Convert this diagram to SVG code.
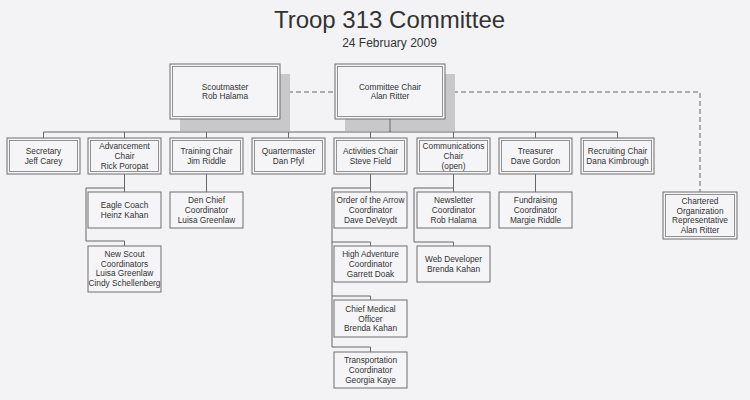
<svg xmlns="http://www.w3.org/2000/svg" width="750" height="400" viewBox="0 0 750 400">
<style>
.bg{fill:#f3f3f6}
.sh{fill:#c8c8cb}
.o{fill:#f5f5f7;stroke:#6e6e6e;stroke-width:1}
.i{fill:none;stroke:#7a7a7a;stroke-width:0.8}
.s{fill:#f5f5f7;stroke:#6e6e6e;stroke-width:1}
text{font-family:"Liberation Sans",Arial,sans-serif;fill:#333;text-anchor:middle}
.t{font-size:8.3px}
.c{fill:none;stroke:#666;stroke-width:1}
.d{fill:none;stroke:#666;stroke-width:1;stroke-dasharray:5,3}
</style>
<rect class="bg" x="0" y="0" width="750" height="400"/>
<text x="389.5" y="28" style="font-size:24px">Troop 313 Committee</text>
<text x="389.5" y="47" style="font-size:12px">24 February 2009</text>
<g id="connectors">
<path class="d" d="M280 92H335M445 92H700V192"/>
<path class="c" d="M390 119V132M43.5 132H617.5M43.5 132V138M124.5 132V138M206.5 132V138M288.5 132V138M370.5 132V138M453.5 132V138M535.5 132V138M617.5 132V138"/>
<path class="c" d="M124.5 174V192M124.5 188H86V241H124.5V246"/>
<path class="c" d="M206.5 174V192"/>
<path class="c" d="M370.5 174V192M370.5 188H332V347M332 242H370.5V246M332 296H370.5V300M332 347H370.5V352"/>
<path class="c" d="M453.5 174V192M453.5 188H414V242H453.5V246"/>
<path class="c" d="M535.5 174V192"/>
</g>
<g id="scoutmaster">
<rect class="sh" x="180" y="74" width="110" height="57"/>
<rect class="o" x="170" y="64" width="110" height="55"/>
<rect class="i" x="172.5" y="66.5" width="105" height="50"/>
<text class="t" x="225" y="89.7">Scoutmaster</text>
<text class="t" x="225" y="99.4">Rob Halama</text>
</g>
<g id="committee-chair">
<rect class="sh" x="345" y="74" width="110" height="57"/>
<rect class="o" x="335" y="64" width="110" height="55"/>
<rect class="i" x="337.5" y="66.5" width="105" height="50"/>
<text class="t" x="390" y="89.7">Committee Chair</text>
<text class="t" x="390" y="99.4">Alan Ritter</text>
</g>
<path class="c" d="M390 119V132"/>
<g id="secretary">
<rect class="o" x="7" y="138" width="73" height="36"/>
<rect class="i" x="9.5" y="140.5" width="68" height="31"/>
<text class="t" x="43.5" y="154.2">Secretary</text>
<text class="t" x="43.5" y="163.9">Jeff Carey</text>
</g>
<g id="advancement-chair">
<rect class="o" x="88" y="138" width="73" height="36"/>
<rect class="i" x="90.5" y="140.5" width="68" height="31"/>
<text class="t" x="124.5" y="149.3">Advancement</text>
<text class="t" x="124.5" y="159">Chair</text>
<text class="t" x="124.5" y="168.7">Rick Poropat</text>
</g>
<g id="training-chair">
<rect class="o" x="170" y="138" width="73" height="36"/>
<rect class="i" x="172.5" y="140.5" width="68" height="31"/>
<text class="t" x="206.5" y="154.2">Training Chair</text>
<text class="t" x="206.5" y="163.9">Jim Riddle</text>
</g>
<g id="quartermaster">
<rect class="o" x="252" y="138" width="73" height="36"/>
<rect class="i" x="254.5" y="140.5" width="68" height="31"/>
<text class="t" x="288.5" y="154.2">Quartermaster</text>
<text class="t" x="288.5" y="163.9">Dan Pfyl</text>
</g>
<g id="activities-chair">
<rect class="o" x="334" y="138" width="73" height="36"/>
<rect class="i" x="336.5" y="140.5" width="68" height="31"/>
<text class="t" x="370.5" y="154.2">Activities Chair</text>
<text class="t" x="370.5" y="163.9">Steve Field</text>
</g>
<g id="communications-chair">
<rect class="o" x="417" y="138" width="73" height="36"/>
<rect class="i" x="419.5" y="140.5" width="68" height="31"/>
<text class="t" x="453.5" y="149.3">Communications</text>
<text class="t" x="453.5" y="159">Chair</text>
<text class="t" x="453.5" y="168.7">(open)</text>
</g>
<g id="treasurer">
<rect class="o" x="499" y="138" width="73" height="36"/>
<rect class="i" x="501.5" y="140.5" width="68" height="31"/>
<text class="t" x="535.5" y="154.2">Treasurer</text>
<text class="t" x="535.5" y="163.9">Dave Gordon</text>
</g>
<g id="recruiting-chair">
<rect class="o" x="581" y="138" width="73" height="36"/>
<rect class="i" x="583.5" y="140.5" width="68" height="31"/>
<text class="t" x="617.5" y="154.2">Recruiting Chair</text>
<text class="t" x="617.5" y="163.9">Dana Kimbrough</text>
</g>
<g id="chartered-org-rep">
<rect class="o" x="663" y="192" width="74" height="47"/>
<rect class="i" x="665.5" y="194.5" width="69" height="42"/>
<text class="t" x="700" y="204">Chartered</text>
<text class="t" x="700" y="213.7">Organization</text>
<text class="t" x="700" y="223.4">Representative</text>
<text class="t" x="700" y="233.1">Alan Ritter</text>
</g>
<g id="eagle-coach">
<rect class="s" x="88" y="192" width="73" height="36"/>
<text class="t" x="124.5" y="208.2">Eagle Coach</text>
<text class="t" x="124.5" y="217.9">Heinz Kahan</text>
</g>
<g id="new-scout-coordinators">
<rect class="s" x="88" y="246" width="73" height="46"/>
<text class="t" x="124.5" y="257.2">New Scout</text>
<text class="t" x="124.5" y="266.8">Coordinators</text>
<text class="t" x="124.5" y="276.4">Luisa Greenlaw</text>
<text class="t" x="124.5" y="286">Cindy Schellenberg</text>
</g>
<g id="den-chief-coordinator">
<rect class="s" x="170" y="192" width="73" height="36"/>
<text class="t" x="206.5" y="203.3">Den Chief</text>
<text class="t" x="206.5" y="213">Coordinator</text>
<text class="t" x="206.5" y="222.7">Luisa Greenlaw</text>
</g>
<g id="order-of-the-arrow">
<rect class="s" x="334" y="192" width="73" height="36"/>
<text class="t" x="370.5" y="203.3">Order of the Arrow</text>
<text class="t" x="370.5" y="213">Coordinator</text>
<text class="t" x="370.5" y="222.7">Dave DeVeydt</text>
</g>
<g id="high-adventure">
<rect class="s" x="334" y="246" width="73" height="36"/>
<text class="t" x="370.5" y="257.3">High Adventure</text>
<text class="t" x="370.5" y="267">Coordinator</text>
<text class="t" x="370.5" y="276.7">Garrett Doak</text>
</g>
<g id="chief-medical-officer">
<rect class="s" x="334" y="300" width="73" height="37"/>
<text class="t" x="370.5" y="311.8">Chief Medical</text>
<text class="t" x="370.5" y="321.5">Officer</text>
<text class="t" x="370.5" y="331.2">Brenda Kahan</text>
</g>
<g id="transportation">
<rect class="s" x="334" y="352" width="73" height="36"/>
<text class="t" x="370.5" y="363.3">Transportation</text>
<text class="t" x="370.5" y="373">Coordinator</text>
<text class="t" x="370.5" y="382.7">Georgia Kaye</text>
</g>
<g id="newsletter">
<rect class="s" x="417" y="192" width="73" height="36"/>
<text class="t" x="453.5" y="203.3">Newsletter</text>
<text class="t" x="453.5" y="213">Coordinator</text>
<text class="t" x="453.5" y="222.7">Rob Halama</text>
</g>
<g id="web-developer">
<rect class="s" x="417" y="246" width="73" height="36"/>
<text class="t" x="453.5" y="262.2">Web Developer</text>
<text class="t" x="453.5" y="271.9">Brenda Kahan</text>
</g>
<g id="fundraising">
<rect class="s" x="499" y="192" width="73" height="36"/>
<text class="t" x="535.5" y="203.3">Fundraising</text>
<text class="t" x="535.5" y="213">Coordinator</text>
<text class="t" x="535.5" y="222.7">Margie Riddle</text>
</g>
</svg>
